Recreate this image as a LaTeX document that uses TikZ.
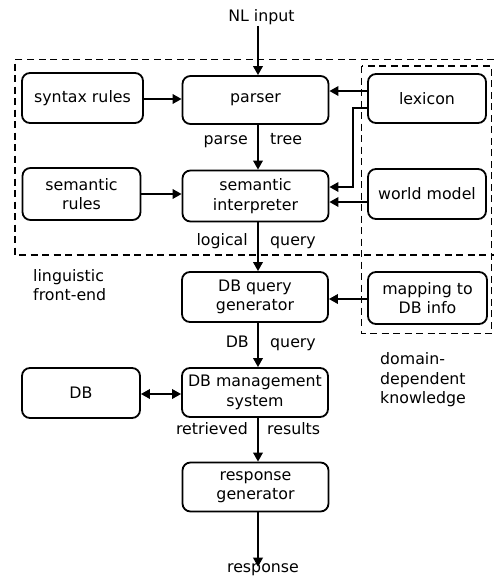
\documentclass[tikz,border=0pt]{standalone}
\usepackage{fontspec}
\setmainfont{DejaVu Sans}
\usetikzlibrary{arrows.meta,calc}
\begin{document}
\begin{tikzpicture}[x=1pt,y=-1pt,
  font=\fontsize{15.8}{19.5}\selectfont,
  box/.style={draw,line width=1.8pt,rounded corners=8pt,align=center,inner sep=1pt},
  arr/.style={line width=1.8pt,-{Triangle[length=9pt,width=9.5pt]}},
  darr/.style={line width=1.8pt,{Triangle[length=9pt,width=9.5pt]}-{Triangle[length=9pt,width=9.5pt]}},
  dashbox/.style={line width=1.7pt,dash pattern=on 7pt off 4.5pt},
  lbl/.style={inner sep=0pt,text height=11.5pt,text depth=3.5pt},
  free/.style={inner sep=0pt,align=left}]
\useasboundingbox (0,0) rectangle (494,579);
% dashed regions
\draw[dashbox] (494,59.5) -- (15,59.5) -- (15,255) -- (494,255);
\draw[dashbox] (361.5,66) rectangle (491.5,333.5);
% boxes
\node[box,minimum width=146pt,minimum height=48pt] (parser) at (255.5,100) {parser};
\node[box,minimum width=146pt,minimum height=51pt] (seminterp) at (255.5,196) {semantic\\interpreter};
\node[box,minimum width=121pt,minimum height=50pt] (syntax) at (82.5,98) {syntax rules};
\node[box,minimum width=118pt,minimum height=52pt] (semrules) at (81.5,194) {semantic\\rules};
\node[box,minimum width=118pt,minimum height=49pt] (lexicon) at (427,98.5) {lexicon};
\node[box,minimum width=118pt,minimum height=50pt] (world) at (427,194) {world model};
\node[box,minimum width=146pt,minimum height=50pt] (dbqgen) at (255,297) {DB query\\generator};
\node[box,minimum width=119pt,minimum height=52pt] (mapping) at (427.5,298) {mapping to\\DB info};
\node[box,minimum width=146pt,minimum height=49pt] (dbms) at (255,392.5) {DB management\\system};
\node[box,minimum width=118pt,minimum height=50pt] (db) at (81,393) {DB};
\node[box,minimum width=146pt,minimum height=49pt] (respgen) at (255.5,487) {response\\generator};
% free texts
\node[inner sep=1pt] (nl) at (261.5,17) {NL input};
\node[inner sep=1pt] (resp) at (263,570) {response};
\node[free,anchor=west] (ling) at (33,285) {linguistic\\front-end};
\node[free,anchor=west] (domain) at (380,380) {domain-\\dependent\\knowledge};
% main chain
\coordinate (ax) at (258,0);
\draw[arr] (nl.south -| ax) -- (parser.north -| ax);
\draw[arr] (parser.south -| ax) -- (seminterp.north -| ax);
\draw[arr] (seminterp.south -| ax) -- (dbqgen.north -| ax);
\draw[arr] (dbqgen.south -| ax) -- (dbms.north -| ax);
\draw[arr] (dbms.south -| ax) -- (respgen.north -| ax);
\draw[arr] (respgen.south -| ax) -- ([yshift=-4pt]resp.north -| ax);
% chain labels
\node[lbl,anchor=east] (l1a) at (248,140) {parse};
\node[lbl,anchor=west] (l1b) at (270,140) {tree};
\node[lbl,anchor=east] (l2a) at (248,241.5) {logical};
\node[lbl,anchor=west] (l2b) at (270,241.5) {query};
\node[lbl,anchor=east] (l3a) at (249,343) {DB};
\node[lbl,anchor=west] (l3b) at (270,343) {query};
\node[lbl,anchor=east] (l4a) at (248,430) {retrieved};
\node[lbl,anchor=west] (l4b) at (267,430) {results};
% side connectors
\draw[arr] ([yshift=-1pt]syntax.east) -- ([yshift=-1pt]syntax.east -| parser.west);
\draw[arr] (semrules.east) -- (semrules.east -| seminterp.west);
\draw[arr] ([yshift=7.5pt]lexicon.west) -- ([yshift=7.5pt]lexicon.west -| parser.east);
\coordinate (bend) at (353,187);
\draw[arr] ([yshift=-9.5pt]lexicon.west) -| (bend) -- (bend -| seminterp.east);
\draw[arr] ([yshift=-8pt]world.west) -- ([yshift=-8pt]world.west -| seminterp.east);
\draw[arr] ([yshift=-1pt]mapping.west) -- ([yshift=-1pt]mapping.west -| dbqgen.east);
\draw[darr] ([yshift=-1pt]db.east) -- ([yshift=-1pt]db.east -| dbms.west);
\end{tikzpicture}
\end{document}
